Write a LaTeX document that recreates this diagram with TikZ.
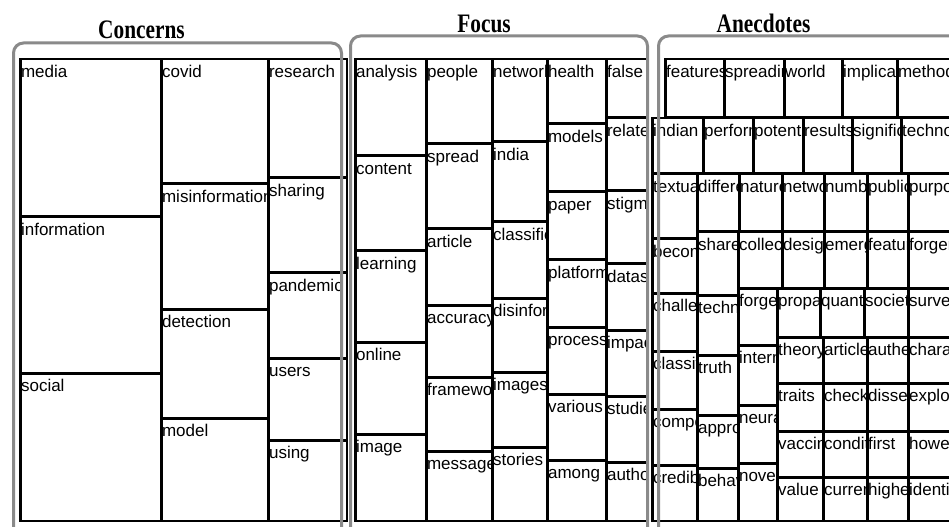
\documentclass[tikz,border=0pt]{standalone}
\usepackage{fontspec}
\setmainfont{Liberation Serif}
\setsansfont{Liberation Sans}
\definecolor{panelgray}{RGB}{138,138,138}

% one treemap cell: name, x1, y1, x2, y2 (pixel units, y downwards), word
\newcommand\tmcell[6]{%
  \node[cellbox,
        minimum width={(#4-#2-0.8)*0.75pt},
        minimum height={(#5-#3-0.8)*0.75pt},
        path picture={\node[celltext] at ([xshift=0.5pt,yshift=-13.9pt]path picture bounding box.north west) {#6};}]
    (#1) at ({(#2+#4)/2},{(#3+#5)/2}) {};}

\begin{document}
\begin{tikzpicture}[x=0.75pt,y=-0.75pt,
  cellbox/.style={rectangle, draw=black, line width=1.65pt, inner sep=0pt, outer sep=0pt},
  celltext/.style={anchor=base west, inner sep=0pt, draw=none, text=black,
                   minimum width=0pt, minimum height=0pt,
                   font=\sffamily\fontsize{12.75pt}{14pt}\selectfont},
  panel/.style={draw=panelgray, line width=2.25pt, rounded corners=7.5pt},
  paneltitle/.style={anchor=base, inner sep=0pt, xscale=0.8,
                     font=\bfseries\fontsize{20pt}{22pt}\selectfont}]
\clip (0,0) rectangle (949,527);
\fill[white] (0,0) rectangle (949,527);

% ---------------- Concerns ----------------
\tmcell{c1}{20}{59}{161}{217}{media}
\tmcell{c2}{20}{217}{161}{373}{information}
\tmcell{c3}{20}{373}{161}{521}{social}
\tmcell{c4}{161}{59}{268}{184}{covid}
\tmcell{c5}{161}{184}{268}{309}{misinformation}
\tmcell{c6}{161}{309}{268}{418}{detection}
\tmcell{c7}{161}{418}{268}{521}{model}
\tmcell{c8}{268}{59}{347}{178}{research}
\tmcell{c9}{268}{178}{347}{273}{sharing}
\tmcell{c10}{268}{273}{347}{358}{pandemic}
\tmcell{c11}{268}{358}{347}{440}{users}
\tmcell{c12}{268}{440}{347}{521}{using}

% ---------------- Focus ----------------
\tmcell{f1}{355}{59}{426}{156}{analysis}
\tmcell{f2}{355}{156}{426}{251}{content}
\tmcell{f3}{355}{251}{426}{342}{learning}
\tmcell{f4}{355}{342}{426}{434}{online}
\tmcell{f5}{355}{434}{426}{521}{image}
\tmcell{f6}{426}{59}{492}{144}{people}
\tmcell{f7}{426}{144}{492}{229}{spread}
\tmcell{f8}{426}{229}{492}{305}{article}
\tmcell{f9}{426}{305}{492}{377}{accuracy}
\tmcell{f10}{426}{377}{492}{451}{framework}
\tmcell{f11}{426}{451}{492}{521}{message}
\tmcell{f12}{492}{59}{547}{142}{network}
\tmcell{f13}{492}{142}{547}{222}{india}
\tmcell{f14}{492}{222}{547}{298}{classification}
\tmcell{f15}{492}{298}{547}{372}{disinformation}
\tmcell{f16}{492}{372}{547}{447}{images}
\tmcell{f17}{492}{447}{547}{521}{stories}
\tmcell{f18}{547}{59}{606}{124}{health}
\tmcell{f19}{547}{124}{606}{192}{models}
\tmcell{f20}{547}{192}{606}{260}{paper}
\tmcell{f21}{547}{260}{606}{327}{platform}
\tmcell{f22}{547}{327}{606}{394}{process}
\tmcell{f23}{547}{394}{606}{460}{various}
\tmcell{f24}{547}{460}{606}{521}{among}
\tmcell{f25}{606}{59}{648}{118}{false}
\tmcell{f26}{606}{118}{648}{191}{related}
\tmcell{f27}{606}{191}{648}{264}{stigma}
\tmcell{f28}{606}{264}{648}{330}{dataset}
\tmcell{f29}{606}{330}{648}{396}{impact}
\tmcell{f30}{606}{396}{648}{462}{studies}
\tmcell{f31}{606}{462}{648}{521}{authors}

% ---------------- Anecdotes ----------------
% first two full-width rows
\tmcell{a1}{665}{59}{724}{118}{features}
\tmcell{a2}{724}{59}{784}{118}{spreading}
\tmcell{a3}{784}{59}{842}{118}{world}
\tmcell{a4}{842}{59}{897}{118}{implications}
\tmcell{a5}{897}{59}{965}{118}{methods}
\tmcell{a6}{652}{118}{703}{174}{indian}
\tmcell{a7}{703}{118}{753}{174}{performance}
\tmcell{a8}{753}{118}{803}{174}{potential}
\tmcell{a9}{803}{118}{852}{174}{results}
\tmcell{a10}{852}{118}{901}{174}{significant}
\tmcell{a11}{901}{118}{965}{174}{technology}
% left column
\tmcell{a12}{652}{174}{697}{239}{textual}
\tmcell{a13}{652}{239}{697}{293}{become}
\tmcell{a14}{652}{293}{697}{351}{challenges}
\tmcell{a15}{652}{351}{697}{409}{classifier}
\tmcell{a16}{652}{409}{697}{465}{composed}
\tmcell{a17}{652}{465}{697}{521}{credibility}
% third row
\tmcell{a18}{697}{174}{739}{232}{different}
\tmcell{a19}{739}{174}{782}{232}{nature}
\tmcell{a20}{782}{174}{824}{232}{network}
\tmcell{a21}{824}{174}{867}{232}{number}
\tmcell{a22}{867}{174}{908}{232}{public}
\tmcell{a23}{908}{174}{965}{232}{purpose}
% second column
\tmcell{a24}{697}{232}{738}{295}{shared}
\tmcell{a25}{697}{295}{738}{355}{techniques}
\tmcell{a26}{697}{355}{738}{415}{truth}
\tmcell{a27}{697}{415}{738}{468}{approach}
\tmcell{a28}{697}{468}{738}{521}{behavior}
% fourth row
\tmcell{a29}{738}{232}{782}{288}{collected}
\tmcell{a30}{782}{232}{824}{288}{designed}
\tmcell{a31}{824}{232}{867}{288}{emerging}
\tmcell{a32}{867}{232}{908}{288}{feature}
\tmcell{a33}{908}{232}{965}{288}{forgery}
% third column
\tmcell{a34}{738}{288}{777}{345}{forged}
\tmcell{a35}{738}{345}{777}{405}{internet}
\tmcell{a36}{738}{405}{777}{463}{neural}
\tmcell{a37}{738}{463}{777}{521}{novel}
% remaining grid
\tmcell{a38}{777}{288}{820}{337}{propaganda}
\tmcell{a39}{820}{288}{864}{337}{quantitative}
\tmcell{a40}{864}{288}{908}{337}{societal}
\tmcell{a41}{908}{288}{965}{337}{survey}
\tmcell{a42}{777}{337}{823}{383}{theory}
\tmcell{a43}{823}{337}{867}{383}{articles}
\tmcell{a44}{867}{337}{908}{383}{authentic}
\tmcell{a45}{908}{337}{965}{383}{characteristics}
\tmcell{a46}{777}{383}{823}{431}{traits}
\tmcell{a47}{823}{383}{867}{431}{checking}
\tmcell{a48}{867}{383}{908}{431}{dissemination}
\tmcell{a49}{908}{383}{965}{431}{exploring}
\tmcell{a50}{777}{431}{823}{477}{vaccine}
\tmcell{a51}{823}{431}{867}{477}{conditions}
\tmcell{a52}{867}{431}{908}{477}{first}
\tmcell{a53}{908}{431}{965}{477}{however}
\tmcell{a54}{777}{477}{823}{521}{value}
\tmcell{a55}{823}{477}{867}{521}{current}
\tmcell{a56}{867}{477}{908}{521}{higher}
\tmcell{a57}{908}{477}{965}{521}{identify}

% ---------------- panel frames and titles ----------------
\draw[panel] (13.5,600) rectangle (341.5,43);
\draw[panel] (350.5,600) rectangle (647.5,36);
\draw[panel] (658.5,600) rectangle (1000,36);

\node[paneltitle] (t1) at (141.5,39) {Concerns};
\node[paneltitle] (t2) at (484,33) {Focus};
\node[paneltitle] (t3) at (763.5,33) {Anecdotes};
\end{tikzpicture}
\end{document}
